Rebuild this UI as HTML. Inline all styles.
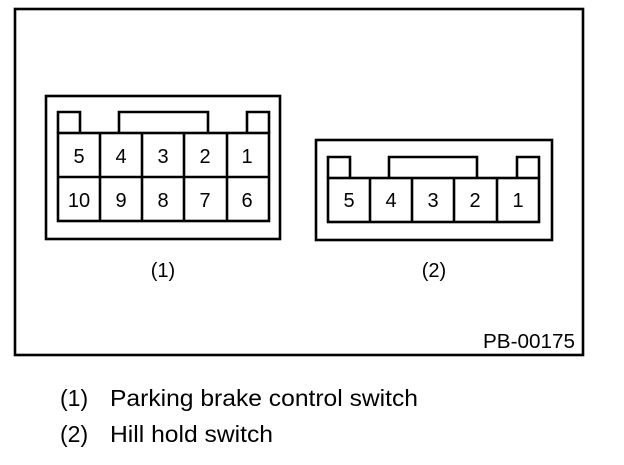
<!DOCTYPE html>
<html><head><style>
body{margin:0;background:#fff;width:624px;height:460px;overflow:hidden}
svg text{font-family:"Liberation Sans",sans-serif;fill:#000}
</style></head><body>
<svg width="624" height="460" viewBox="0 0 624 460" xmlns="http://www.w3.org/2000/svg">
<g fill="none" stroke="#000" stroke-width="2.6">
<rect x="15" y="9" width="568" height="346"/>
<rect x="46" y="96" width="234" height="143"/>
<rect x="58" y="133" width="211" height="88"/>
<line x1="58" y1="177" x2="269" y2="177"/>
<line x1="100" y1="133" x2="100" y2="221"/><line x1="142" y1="133" x2="142" y2="221"/>
<line x1="184" y1="133" x2="184" y2="221"/><line x1="227" y1="133" x2="227" y2="221"/>
<polyline points="58,133 58,112 80,112 80,133"/>
<polyline points="119,133 119,112 208,112 208,133"/>
<polyline points="247,133 247,112 269,112 269,133"/>
<rect x="316" y="140" width="236" height="100"/>
<rect x="328" y="178" width="211" height="44"/>
<line x1="370" y1="178" x2="370" y2="222"/><line x1="412" y1="178" x2="412" y2="222"/>
<line x1="454" y1="178" x2="454" y2="222"/><line x1="497" y1="178" x2="497" y2="222"/>
<polyline points="328,178 328,157 350,157 350,178"/>
<polyline points="389,178 389,157 477,157 477,178"/>
<polyline points="517,178 517,157 539,157 539,178"/>
</g>
<g font-size="20" text-anchor="middle">
<text x="79" y="163">5</text><text x="121" y="163">4</text><text x="163" y="163">3</text><text x="205" y="163">2</text><text x="247" y="163">1</text>
<text x="79" y="207">10</text><text x="121" y="207">9</text><text x="163" y="207">8</text><text x="205" y="207">7</text><text x="247" y="207">6</text>
<text x="349" y="207">5</text><text x="391" y="207">4</text><text x="433" y="207">3</text><text x="475" y="207">2</text><text x="518" y="207">1</text>
<text x="163" y="277">(1)</text><text x="434" y="277">(2)</text>
</g>
<text x="483" y="348" font-size="20" textLength="92" lengthAdjust="spacingAndGlyphs">PB-00175</text>
<g font-size="23">
<text x="60" y="406">(1)</text><text x="110" y="406" textLength="308" lengthAdjust="spacingAndGlyphs">Parking brake control switch</text>
<text x="60" y="442">(2)</text><text x="110" y="442" textLength="163" lengthAdjust="spacingAndGlyphs">Hill hold switch</text>
</g>
</svg>
</body></html>
